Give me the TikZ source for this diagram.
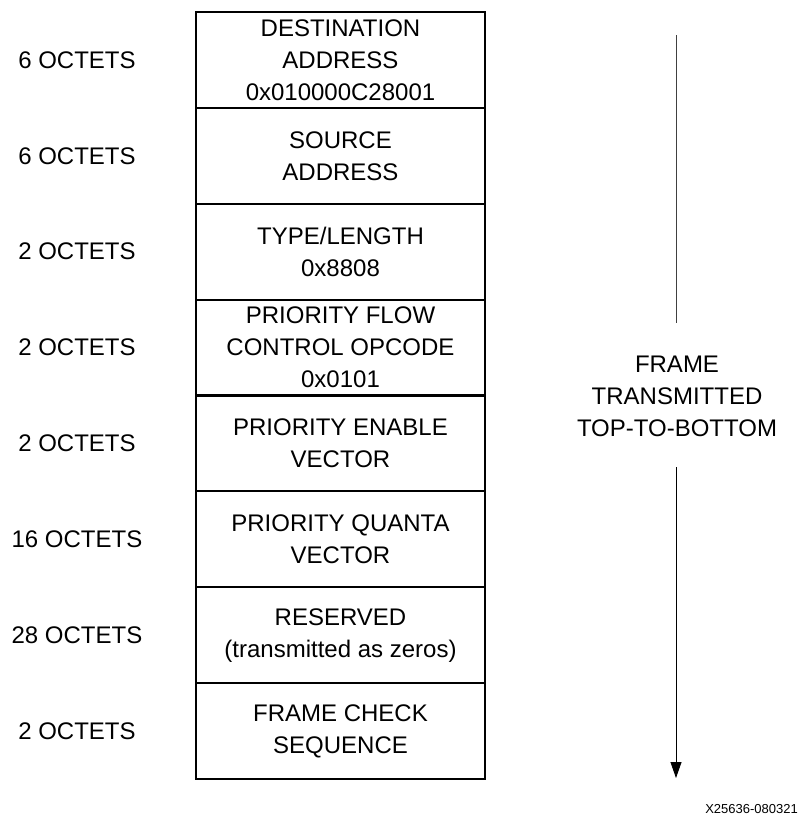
\documentclass[tikz,border=0pt]{standalone}
\usepackage{fontspec}
\setmainfont{Liberation Sans}
\usetikzlibrary{arrows.meta}
\begin{document}
\begin{tikzpicture}[x=1pt,y=-1pt,
  field/.style={draw, line width=2pt, minimum width=289pt, minimum height=95.9pt,
    inner sep=0pt, align=center, font=\fontsize{24}{32}\selectfont},
  octet/.style={align=center, inner sep=0pt, font=\fontsize{24}{32}\selectfont},
  bigtxt/.style={align=center, inner sep=0pt, font=\fontsize{24}{32}\selectfont},
  flow/.style={line width=0.8pt}]
\useasboundingbox (0,0) rectangle (799,820);
\def\rh{95.875}
\node[field] (r1) at (340.5,{12+0.5*\rh}) {DESTINATION\\ADDRESS\\0x010000C28001};
\node[field] (r2) at (340.5,{12+1.5*\rh}) {SOURCE\\ADDRESS};
\node[field] (r3) at (340.5,{12+2.5*\rh}) {TYPE/LENGTH\\0x8808};
\node[field] (r4) at (340.5,{12+3.5*\rh}) {PRIORITY FLOW\\CONTROL OPCODE\\0x0101};
\node[field] (r5) at (340.5,{12+4.5*\rh}) {PRIORITY ENABLE\\VECTOR};
\node[field] (r6) at (340.5,{12+5.5*\rh}) {PRIORITY QUANTA\\VECTOR};
\node[field] (r7) at (340.5,{12+6.5*\rh}) {RESERVED\\(transmitted as zeros)};
\node[field] (r8) at (340.5,{12+7.5*\rh}) {FRAME CHECK\\SEQUENCE};
\node[octet] (l1) at (77,{12+0.5*\rh}) {6 OCTETS};
\node[octet] (l2) at (77,{12+1.5*\rh}) {6 OCTETS};
\node[octet] (l3) at (77,{12+2.5*\rh}) {2 OCTETS};
\node[octet] (l4) at (77,{12+3.5*\rh}) {2 OCTETS};
\node[octet] (l5) at (77,{12+4.5*\rh}) {2 OCTETS};
\node[octet] (l6) at (77,{12+5.5*\rh}) {16 OCTETS};
\node[octet] (l7) at (77,{12+6.5*\rh}) {28 OCTETS};
\node[octet] (l8) at (77,{12+7.5*\rh}) {2 OCTETS};
\node[bigtxt] (frame) at (677,396) {FRAME\\TRANSMITTED\\TOP-TO-BOTTOM};
\coordinate (a1) at (676,35);
\coordinate (a2) at (676,323);
\coordinate (a3) at (676,467);
\coordinate (a4) at (676,778);
\draw[flow, black!75] (a1) -- (a2);
\draw[flow, -{Triangle[length=16pt,width=11pt]}] (a3) -- (a4);
\node[anchor=base east, inner sep=0pt, font=\fontsize{13}{15}\selectfont] (fig) at (798,813) {X25636-080321};
\end{tikzpicture}
\end{document}
